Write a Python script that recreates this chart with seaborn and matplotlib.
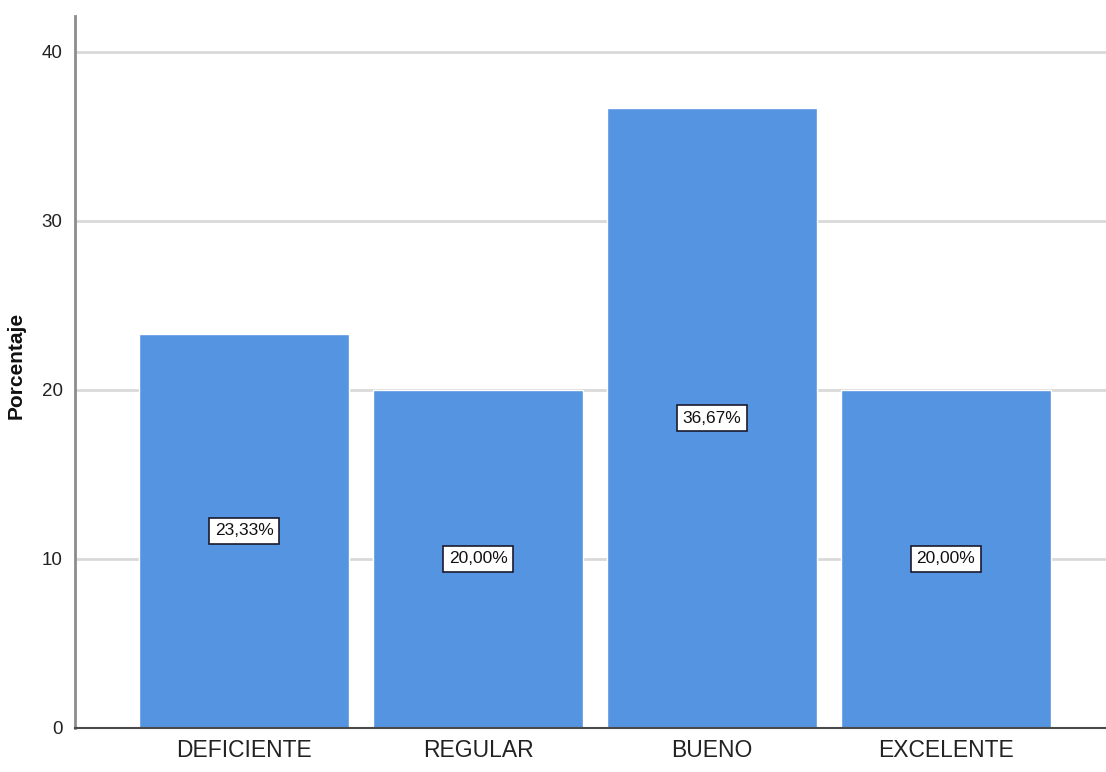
import matplotlib
matplotlib.use('Agg')
import matplotlib.pyplot as plt
import seaborn as sns

# datos
categorias = ['DEFICIENTE', 'REGULAR', 'BUENO', 'EXCELENTE']
porcentajes = [23.33, 20.00, 36.67, 20.00]
etiquetas = ['23,33%', '20,00%', '36,67%', '20,00%']

sns.set_style('white')
plt.rcParams['font.family'] = ['Liberation Sans', 'DejaVu Sans']

fig = plt.figure(figsize=(11.06, 7.72), dpi=100)
ax = fig.add_axes([0.068, 0.057, 0.932, 0.922])

sns.barplot(x=categorias, y=porcentajes, color='#5594E0', saturation=1,
            width=0.897, ax=ax, zorder=2)

# etiquetas dentro de las barras
for i, (v, t) in enumerate(zip(porcentajes, etiquetas)):
    ax.text(i, v / 2, t, ha='center', va='center', fontsize=12.5, color='#111111',
            zorder=3,
            bbox=dict(boxstyle='square,pad=0.32', facecolor='white',
                      edgecolor='#1a1a2e', linewidth=1.2))

ax.set_ylim(0, 42.1)
ax.set_xlim(-0.722, 3.684)
ax.set_yticks([0, 10, 20, 30, 40])
ax.yaxis.grid(True, color='#d9d9d9', linewidth=2)
ax.set_axisbelow(True)

ax.tick_params(axis='y', labelsize=13.5, length=0, pad=9, labelcolor='#222222')
ax.tick_params(axis='x', labelsize=16.5, length=0, pad=8, labelcolor='#222222')
ax.set_ylabel('Porcentaje', fontsize=15, fontweight='bold', color='#111111')
ax.yaxis.set_label_coords(-0.048, 0.51)
ax.set_xlabel('')

for s in ['top', 'right']:
    ax.spines[s].set_visible(False)
ax.spines['left'].set_color('#8c8c8c')
ax.spines['left'].set_linewidth(2)
ax.spines['bottom'].set_color('#4a4a4a')
ax.spines['bottom'].set_linewidth(1.5)

plt.savefig('out.png', dpi=100)
